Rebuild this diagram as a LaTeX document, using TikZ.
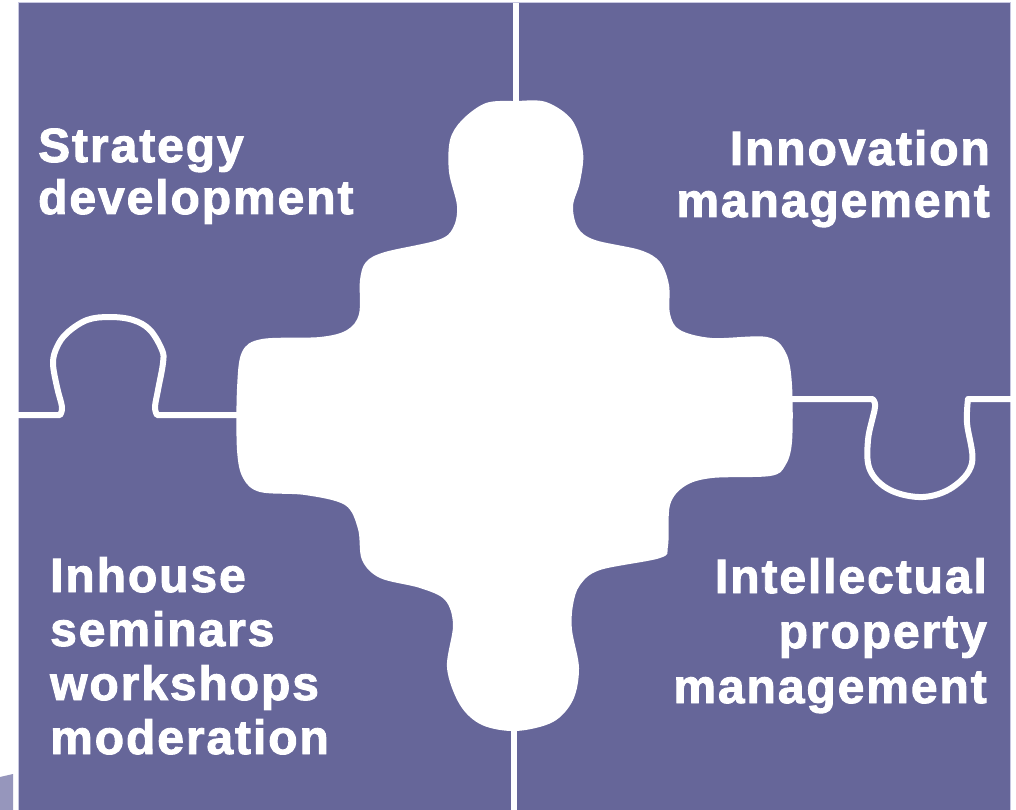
\documentclass[tikz,border=0pt]{standalone}
\usepackage{fontspec}
\setmainfont{Liberation Sans}
\newfontfamily\pzfont[LetterSpace=4,FakeBold=2]{Liberation Sans}
\definecolor{puzzle}{RGB}{102,102,153}
\definecolor{pzedge}{RGB}{200,200,225}
\definecolor{pzlight}{RGB}{150,150,188}

\begin{document}
\begin{tikzpicture}[x=1pt,y=-1pt,
	pztext/.style={text=white,inner sep=0pt,font=\pzfont\bfseries\fontsize{48}{52}\selectfont},
	seam/.style={draw=white,line width=6pt,line join=round}]
		\useasboundingbox (0,0) rectangle (1016,810);
		\fill[white] (0,0) rectangle (1016,810);
		\fill[puzzle] (18,3) rectangle (1010,810);
		\draw[pzedge,line width=1pt] (18,810) -- (18,3) -- (1010,3) -- (1010,810);
		\fill[pzlight] (0,777) -- (13,774) -- (13,810) -- (0,810) -- cycle;

		% centre piece
		\fill[white] plot[smooth cycle,tension=0.55] coordinates {
			(516,101) (546,102) (572,120) (583,152) (580,182) (573,206) (578,228) (595,240)
			(640,250) (660,262) (669,285) (670,314) (680,330) (712,338) (767,337) (786,353)
			(792,385) (792,442) (785,466) (770,476) (712,478) (685,486) (670,505) (668,546)
			(660,558) (600,570) (580,585) (573,605) (572,630) (579,668) (573,700) (553,722)
			(516,731) (482,725) (460,705) (447,668) (453,625) (445,600) (420,588) (380,578)
			(362,560) (358,529) (345,505) (305,495) (260,492) (243,478) (237,450) (237,389)
			(242,352) (262,339) (320,337) (347,330) (359,314) (360,280) (366,262) (385,252)
			(438,240) (453,228) (457,206) (449,172) (450,140) (462,120) (486,103)};

		\coordinate (ntop) at (516,3);
		\coordinate (nbot) at (516,104);
		\coordinate (stop) at (514,728);
		\coordinate (sbot) at (514,812);
		\coordinate (wout) at (16,415);
		\coordinate (win)  at (240,415);
		\coordinate (ein)  at (789,399);
		\coordinate (eout) at (1012,399);

		\draw[seam] (ntop) -- (nbot);
		\draw[seam] (stop) -- (sbot);
		\draw[seam] (wout) -- (60,415) -- plot[smooth,tension=0.6] coordinates {
			(60,415) (62,407) (57,387) (53,363) (57,347) (67,333) (87,320) (110,317)
			(133,320) (150,330) (162,350) (163,363) (158,390) (155,407) (157,415)} -- (win);
		\draw[seam] (ein) -- (872,399) -- plot[smooth,tension=0.6] coordinates {
			(872,399) (875,407) (868,440) (870,470) (890,490) (923,497) (953,487)
			(972,463) (967,423) (968,399)} -- (eout);

		\node[pztext,anchor=base west,align=left]  (strat) at (38,214)  {Strategy\\development};
		\node[pztext,anchor=base east,align=right] (innov) at (990,217) {Innovation\\management};
		\node[pztext,anchor=base west,align=left,font=\pzfont\bfseries\fontsize{48}{54}\selectfont]
			(inhse) at (50,754) {Inhouse\\seminars\\workshops\\moderation};
		\node[pztext,anchor=base east,align=right,font=\pzfont\bfseries\fontsize{48}{55}\selectfont]
			(intel) at (987,703) {Intellectual\\property\\management};
	\end{tikzpicture}
\end{document}
